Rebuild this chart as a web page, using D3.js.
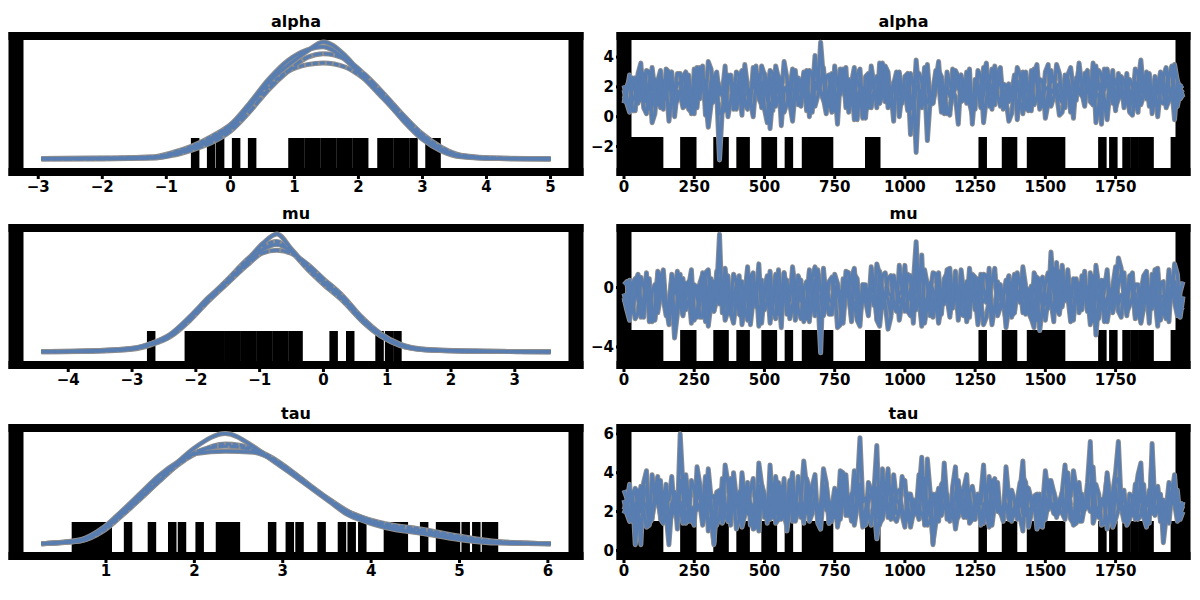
<!DOCTYPE html>
<html>
<head>
<meta charset="utf-8">
<script src="https://cdn.jsdelivr.net/npm/d3@7"></script>
<style>body{margin:0;background:#fff;}</style>
</head>
<body>
<svg id="chart" width="1200" height="600"></svg>
<script>
// ---------------- DATA ----------------
const varNames = ["alpha", "mu", "tau"];

// KDE evaluation grids (value axis) and densities for 4 chains
const alphaGrid = [-2.95,-2.0,-1.2,-0.9,-0.6,-0.3,0.0,0.3,0.6,0.9,1.2,1.45,1.8,2.1,2.4,2.7,3.0,3.3,3.6,4.2,5.0];
const alphaKde = [
  [0.003,0.004,0.006,0.018,0.040,0.070,0.115,0.198,0.290,0.352,0.405,0.440,0.387,0.304,0.229,0.145,0.075,0.031,0.010,0.003,0.002],
  [0.002,0.003,0.008,0.022,0.046,0.080,0.128,0.210,0.300,0.370,0.410,0.422,0.372,0.300,0.225,0.150,0.082,0.035,0.012,0.003,0.002],
  [0.002,0.002,0.005,0.015,0.035,0.062,0.105,0.178,0.262,0.330,0.382,0.396,0.375,0.318,0.245,0.165,0.090,0.040,0.014,0.004,0.002],
  [0.003,0.005,0.010,0.026,0.050,0.085,0.130,0.200,0.275,0.330,0.355,0.361,0.345,0.300,0.238,0.165,0.095,0.045,0.016,0.005,0.003]
];
const muGrid = [-4.42,-3.6,-3.0,-2.7,-2.4,-2.1,-1.8,-1.5,-1.2,-0.95,-0.73,-0.5,-0.25,0.0,0.3,0.6,0.9,1.2,1.6,2.4,3.56];
const muKde = [
  [0.002,0.005,0.014,0.033,0.066,0.132,0.212,0.282,0.362,0.432,0.470,0.409,0.338,0.277,0.212,0.127,0.066,0.028,0.009,0.004,0.002],
  [0.003,0.006,0.016,0.036,0.072,0.140,0.218,0.285,0.352,0.408,0.428,0.400,0.342,0.282,0.216,0.135,0.070,0.031,0.011,0.005,0.002],
  [0.002,0.004,0.012,0.030,0.062,0.125,0.204,0.275,0.345,0.395,0.405,0.392,0.350,0.292,0.225,0.140,0.074,0.033,0.012,0.004,0.002],
  [0.003,0.006,0.015,0.034,0.068,0.136,0.214,0.290,0.368,0.420,0.440,0.398,0.330,0.270,0.205,0.125,0.064,0.027,0.010,0.004,0.002]
];
const tauGrid = [0.27,0.71,0.97,1.18,1.39,1.60,1.81,2.02,2.35,2.67,2.88,3.09,3.30,3.52,3.73,3.95,4.16,4.59,5.01,5.44,6.03];
const tauKde = [
  [0.002,0.013,0.055,0.113,0.176,0.239,0.311,0.370,0.420,0.370,0.319,0.269,0.218,0.164,0.113,0.084,0.063,0.040,0.017,0.004,0.002],
  [0.002,0.017,0.063,0.126,0.193,0.260,0.311,0.344,0.353,0.349,0.323,0.277,0.223,0.168,0.122,0.088,0.067,0.042,0.021,0.006,0.002],
  [0.002,0.015,0.058,0.120,0.185,0.250,0.305,0.350,0.372,0.356,0.322,0.275,0.222,0.170,0.125,0.095,0.074,0.050,0.025,0.008,0.002],
  [0.002,0.012,0.050,0.108,0.172,0.238,0.300,0.345,0.380,0.362,0.328,0.280,0.226,0.172,0.126,0.096,0.078,0.056,0.030,0.010,0.002]
];

// Thinned traces, one value every drawStep draws; "A" = even samples, "B" = odd samples
const drawStep = 10;
const alphaTraceA = [
  [1.2,2.8,0.4,1.9,3.1,0.7,1.5,2.4,-0.3,1.8, 2.9,1.1,0.2,2.2,3.4,1.0,1.7,-2.9,0.9,2.6, 1.4,0.1,2.0,3.3,1.6,0.5,2.7,1.3,-0.6,1.9, 2.5,0.8,3.0,1.2,2.3,5.0,1.1,0.3,2.1,3.2, 1.5,-0.2,1.8,2.7,0.6,1.4,3.6,1.0,2.2,0.0, 1.7,2.9,-2.4,1.3,2.4,0.9,3.1,1.6,0.4,2.0, 2.8,1.2,-0.5,1.9,3.3,0.7,1.5,2.6,1.1,0.2, 2.3,3.0,1.4,0.8,2.5,-0.1,1.8,3.5,1.0,2.1, 0.5,1.6,2.9,1.3,-0.4,2.2,3.2,0.9,1.7,2.4, 0.3,1.5,3.8,1.2,0.6,2.0,2.7,1.1,-0.2,1.9],
  [2.1,0.6,1.7,3.2,1.0,-0.4,2.4,1.3,2.9,0.8, 1.6,3.0,0.3,1.9,2.5,-0.7,1.2,2.0,3.4,1.1, 0.5,2.3,1.5,0.0,2.8,1.8,3.1,0.7,1.4,2.6, -0.3,1.9,2.7,1.0,3.5,1.6,0.2,2.2,1.3,2.9, 0.9,3.3,1.7,-0.1,2.4,1.1,2.0,3.0,0.4,1.5, 2.7,1.2,3.8,0.6,-1.6,1.8,2.3,0.8,1.4,3.1, 1.0,2.5,0.1,1.7,2.9,1.3,3.4,0.7,2.1,1.6, -0.2,2.6,1.1,3.2,0.5,1.9,2.4,1.5,0.3,2.8, 1.8,3.6,0.9,2.2,1.4,-0.5,2.0,3.1,1.2,0.6, 2.5,1.0,3.3,1.7,0.2,2.3,1.5,2.9,0.8,1.8],
  [0.9,2.5,1.4,3.6,0.2,1.8,2.2,0.5,3.0,1.6, 2.3,0.7,1.1,3.3,1.9,0.1,2.6,1.5,0.4,2.8, 1.7,3.1,0.6,2.0,1.2,2.9,-0.8,1.6,2.4,0.9, 3.2,1.3,2.1,0.0,4.1,1.7,2.7,0.8,1.5,2.3, 0.3,2.9,1.9,1.1,3.4,0.6,2.2,1.4,-0.3,2.6, 1.8,0.5,3.0,2.4,1.0,1.6,3.7,0.2,2.1,1.3, 2.7,0.9,1.5,3.1,-0.4,2.3,1.7,2.9,0.6,1.9, 3.3,1.2,0.4,2.6,1.8,3.0,0.7,2.0,1.4,2.5, -0.1,1.6,2.8,1.0,3.4,1.5,0.3,2.2,2.9,1.1, 1.7,3.2,0.8,2.4,1.3,0.0,2.7,1.9,3.5,1.2],
  [1.8,0.3,2.6,1.1,2.0,3.3,0.8,1.6,2.7,0.0, 1.5,2.9,1.2,0.6,2.4,3.7,1.0,0.2,1.9,2.3, 3.0,1.4,0.5,2.1,1.7,2.8,0.9,3.4,1.3,2.0, 0.4,2.6,1.6,3.1,0.7,2.2,1.1,2.9,-0.5,1.8, 2.5,1.0,3.2,0.3,1.9,2.7,1.4,0.6,2.3,3.0, 1.2,-1.2,2.0,1.6,3.5,0.9,2.4,1.3,0.1,2.8, 1.7,3.0,0.4,2.2,1.5,2.6,0.8,3.3,1.9,1.1, 2.4,0.2,1.8,2.9,1.3,0.6,3.1,2.0,1.0,2.5, 1.4,3.4,0.7,2.1,1.6,2.8,-0.2,1.9,2.6,1.2, 0.5,2.3,1.8,3.0,1.1,2.2,0.9,2.7,1.5,2.0]
];
const alphaTraceB = [
  [1.6,0.4,2.5,1.1,3.0,1.8,0.6,2.2,1.4,2.9, 0.8,1.9,3.2,1.2,0.1,2.4,1.7,0.5,2.8,1.3, 2.0,3.5,0.9,1.6,2.3,-0.4,1.1,2.7,1.9,0.7, 3.1,1.4,2.1,0.3,1.8,2.6,1.0,3.4,1.5,0.6, 2.2,1.3,-0.1,2.9,1.7,0.9,2.4,1.2,3.0,1.6, 0.4,2.1,1.5,3.3,0.8,1.9,2.7,0.2,1.4,2.5, 1.1,3.2,1.8,0.6,2.3,1.0,2.8,1.5,-0.3,2.0, 1.7,0.5,3.1,1.3,2.4,0.9,1.6,2.9,1.2,0.3, 2.6,1.4,1.9,3.6,0.7,1.8,2.2,1.0,2.7,1.5, 0.1,2.3,1.6,2.8,1.1,3.0,0.6,1.9,2.4,1.3],
  [1.3,2.6,0.9,1.8,2.4,0.2,3.1,1.5,2.0,1.1, 2.7,0.5,1.9,3.3,1.2,0.8,2.5,1.6,0.0,2.2, 1.4,3.0,1.0,2.3,0.6,1.7,2.9,1.3,3.7,0.9, 1.8,2.4,0.4,1.5,2.8,1.2,2.0,0.7,3.2,1.6, 2.3,-0.2,1.4,2.6,1.9,1.0,3.4,0.8,2.1,1.5, 2.9,0.6,1.7,2.4,1.1,3.1,0.3,2.0,1.6,2.7, 1.2,0.9,2.5,1.8,3.6,0.5,1.4,2.2,1.0,2.8, 1.6,3.0,0.4,2.3,1.3,1.9,2.6,0.1,1.7,3.3, 1.1,2.0,2.7,0.8,1.5,3.2,1.9,0.6,2.4,1.2, 2.1,0.3,1.8,2.9,1.4,2.5,1.0,3.1,0.7,1.6],
  [2.0,1.1,2.9,0.6,1.7,2.5,1.3,3.2,0.9,2.2, 1.5,2.8,0.2,1.9,2.4,1.0,3.0,1.6,2.3,0.5, 2.6,1.2,1.8,3.4,0.8,2.1,1.4,2.7,0.3,1.9, 2.4,0.7,3.1,1.5,2.0,1.1,2.8,0.4,1.6,3.3, 1.2,2.5,1.9,0.6,2.2,3.6,1.0,1.7,2.6,0.9, 2.1,1.4,2.9,0.8,1.5,2.4,1.1,3.0,1.8,-0.5, 2.3,1.6,0.5,2.7,1.2,3.2,1.9,0.7,2.0,1.4, 2.8,0.9,1.7,2.4,1.0,3.5,1.3,2.2,0.6,1.8, 2.5,1.5,3.1,0.8,2.0,1.2,2.7,0.4,1.6,2.3, 1.0,2.9,1.4,0.7,2.1,1.8,3.3,1.1,2.4,1.5],
  [0.9,2.3,1.6,2.9,0.5,1.8,2.5,1.2,3.0,1.7, 0.6,2.2,1.4,2.7,1.0,3.2,1.9,0.3,2.4,1.5, 2.8,0.8,1.7,2.1,3.4,1.1,0.4,2.6,1.8,1.3, 2.3,1.6,0.9,2.9,1.4,3.3,0.7,1.9,2.5,1.2, 1.7,2.8,0.5,1.5,2.2,0.9,3.1,1.3,2.0,1.6, 2.6,0.2,1.8,2.4,1.1,2.9,1.5,0.6,3.2,1.9, 1.3,2.1,1.7,0.8,2.6,1.4,3.0,0.5,2.2,1.6, 1.0,2.7,1.9,3.5,0.7,1.5,2.3,1.2,2.8,0.4, 2.0,1.6,2.5,1.1,3.1,0.9,1.8,2.4,1.3,2.9, 1.7,0.6,2.2,1.4,2.7,1.0,1.9,3.4,0.8,2.1]
];
const muTraceA = [
  [-0.4,-1.9,0.6,-1.2,-0.1,-2.3,0.9,-0.8,-1.6,0.3, -1.1,-0.2,1.2,-1.7,-0.5,-2.6,0.4,3.6,-0.9,-1.4, 0.1,-2.0,-0.6,1.0,-1.3,-0.3,-2.4,0.7,-1.0,-0.7, 1.4,-1.5,-0.1,-2.1,0.5,-4.4,-0.8,-1.8,0.2,-1.2, -0.4,1.1,-2.2,-0.9,0.3,-1.6,-0.2,-2.8,0.8,-1.0, -0.5,0.6,1.9,-1.4,-0.7,-2.0,0.0,-1.1,1.3,-0.3, -1.8,0.4,-0.9,-2.5,0.9,-0.6,-1.3,0.2,-2.2,-0.4, 1.0,-1.7,-0.1,-2.7,0.5,-1.0,0.7,-1.5,-0.2,1.2, -2.0,-0.8,0.3,-1.4,1.5,-0.5,-2.3,0.1,-1.1,-0.6, 0.8,-1.9,-0.3,1.1,-1.2,-2.6,0.4,-0.7,1.6,-1.5],
  [0.2,-1.3,-2.1,0.7,-0.6,-1.8,1.1,-0.2,-2.5,-3.4, 0.5,-1.5,-0.4,-2.0,0.9,-1.1,-1.6,-0.3,1.3,-1.7, -0.8,0.4,-2.2,-1.0,1.6,-0.5,-1.4,0.1,-2.7,-0.2, -1.2,0.8,-0.7,1.2,-1.9,-0.1,-0.4,-1.3,0.3,-2.4, -0.6,0.9,-1.6,-0.3,1.4,-2.2,-0.8,0.6,-1.1,-0.4, 1.5,-1.9,3.1,-2.6,0.2,-1.0,1.0,-0.7,-1.8,0.4, -0.3,-2.3,0.7,-1.2,-0.1,1.3,-1.6,-0.8,0.5,-2.0, -0.6,1.1,-1.4,-0.2,-2.9,0.3,-0.9,1.7,-1.3,-0.5, 0.6,-1.7,-0.4,1.0,-2.1,-0.8,0.4,-1.5,2.0,-0.7, -1.2,0.2,-2.4,-0.1,0.9,-1.6,-0.6,1.2,-1.0,-0.3],
  [-1.0,0.5,-0.3,-2.0,0.8,-1.4,-0.6,1.2,-1.9,-0.2, -1.2,0.3,-2.4,-0.7,1.0,-0.1,-1.6,0.6,-2.2,-0.9, 0.4,-1.3,1.4,-0.5,-2.6,0.0,-1.1,0.9,-0.4,-1.8, 0.7,-0.8,-2.3,1.1,-1.5,-0.2,0.3,-1.0,-2.7,0.6, -0.5,1.3,-1.7,-0.9,0.2,-2.1,0.8,-0.4,-1.3,1.5, -1.6,-0.1,0.5,-2.4,-0.7,1.0,-1.2,0.3,-2.0,-0.6, 1.2,-1.1,-0.3,0.6,-2.5,-0.8,0.9,-1.4,0.1,-1.9, -0.2,1.4,-1.0,-2.1,0.4,-0.6,2.4,-1.5,-0.3,0.8, -2.2,-0.5,1.1,-1.3,-3.2,0.5,-0.8,-1.7,0.2,1.0, -1.1,-0.4,-2.3,0.7,-0.9,1.3,-1.6,-0.2,0.4,-2.0],
  [-0.7,-2.2,0.4,-1.0,1.0,-0.3,-1.7,0.2,-0.9,-2.4, 0.9,-0.6,-1.3,0.1,-2.0,1.2,-0.5,-1.1,0.6,-1.8, -0.2,-2.5,0.8,-0.8,0.3,-1.5,1.1,-2.1,-0.4,0.5, -1.4,0.0,-0.9,-2.3,1.4,-0.6,-1.2,0.7,-0.1,-1.9, 1.0,-1.0,-2.6,0.2,-0.5,1.6,-1.4,-0.8,0.5,-2.2, -0.4,0.8,-1.5,2.2,-1.1,-0.2,-2.4,0.6,-0.7,1.1, -1.6,-0.3,0.9,-2.0,-0.9,0.4,1.3,-1.3,-2.7,0.1, -0.8,0.6,-1.7,1.0,-0.4,-2.2,0.2,-1.0,1.5,-0.6, -1.9,0.3,-0.5,-2.5,0.8,-1.2,1.2,-0.3,-1.6,-0.1, 0.7,-2.1,-0.7,0.4,-1.4,1.0,-0.9,-2.3,0.3,-1.1]
];
const muTraceB = [
  [-1.2,0.3,-0.8,-2.0,0.6,-1.5,-0.3,-1.9,0.9,-0.6, -1.4,0.1,-2.2,-0.9,0.5,-1.1,-0.2,-1.7,0.8,-0.5, -1.8,-0.4,0.7,-1.3,-2.4,0.2,-0.7,-1.6,1.0,-0.9, -0.1,-2.1,0.4,-1.2,-0.6,1.3,-1.8,-0.3,-1.0,0.6, -2.3,-0.8,0.2,-1.5,-0.4,1.1,-1.1,-2.0,0.0,-0.7, 0.9,-1.6,-0.5,-2.2,0.3,-1.0,-0.2,1.2,-1.4,-0.8, -1.9,0.5,-0.6,-1.2,0.8,-2.5,-0.3,-1.1,0.4,-1.7, 0.1,-0.9,-2.1,0.7,-1.3,-0.4,1.0,-1.8,-0.6,-1.0, 0.6,-1.5,-0.1,-2.3,0.2,-0.8,-1.2,1.4,-0.5,-1.9, -0.3,-1.1,0.8,-1.6,-0.7,0.3,-2.0,-0.4,0.9,-1.3],
  [0.4,-1.0,-1.7,0.1,-0.5,-2.2,0.8,-1.3,-0.2,-1.8, 0.6,-0.9,-1.5,0.3,-2.0,-0.4,1.1,-1.1,-0.6,-2.4, 0.0,-1.4,0.7,-0.8,-1.9,0.4,-1.2,-0.3,1.0,-1.6, -0.7,0.2,-2.1,-1.0,0.5,-0.4,-1.7,0.9,-1.3,-0.1, -2.0,0.6,-0.9,-1.5,0.1,-2.6,-0.5,0.8,-1.1,-0.2, -1.6,0.3,-0.7,1.2,-1.9,-0.4,-1.2,0.5,-0.8,-2.2, 0.2,-1.4,-0.3,0.9,-1.0,-2.0,0.4,-0.6,-1.5,0.7, -0.9,-1.8,0.1,-0.4,-1.3,1.0,-2.3,-0.7,0.3,-1.1, -0.2,0.8,-1.6,-0.5,-2.1,0.5,-1.0,-0.3,1.3,-1.7, -0.8,0.2,-1.4,-2.4,0.6,-0.6,-1.1,0.0,-1.9,0.4],
  [-0.6,-1.7,0.7,-1.0,-0.2,-2.1,0.4,-1.4,-0.7,1.1, -1.9,-0.4,0.2,-1.2,-2.3,0.6,-0.9,-0.1,-1.6,0.9, -1.1,-0.5,-2.0,0.3,-1.3,0.8,-0.7,-1.8,0.1,-0.3, -2.2,0.5,-1.0,-0.4,1.2,-1.5,-0.8,0.0,-2.5,-0.6, 0.7,-1.2,-0.2,-1.9,0.4,-1.0,1.0,-0.5,-1.6,-0.1, -0.9,-2.4,0.6,-1.3,-0.3,0.9,-1.8,-0.7,0.2,-1.1, -0.4,1.3,-1.5,-0.8,-2.0,0.5,-1.2,-0.2,0.8,-1.7, -1.0,0.1,-0.6,-2.2,0.7,-1.4,-0.3,1.1,-0.9,-1.9, 0.3,-0.5,-1.6,0.6,-1.1,-2.3,-0.1,-0.8,0.9,-1.3, -0.7,-1.8,0.4,-0.4,1.2,-1.5,-2.1,0.1,-1.0,-0.6],
  [-1.5,-0.1,0.9,-1.1,-2.3,0.2,-0.6,-1.4,0.6,-0.9, -1.8,0.4,-0.3,-2.0,1.0,-1.2,-0.5,0.3,-1.7,-0.8, 0.8,-1.3,-2.5,-0.2,0.5,-1.0,-1.6,1.2,-0.4,-2.1, 0.1,-0.9,-1.4,0.7,-0.6,-1.9,0.4,-1.1,-0.3,1.1, -1.6,-2.2,0.2,-0.7,-1.2,0.9,-0.4,-1.8,0.0,-1.0, 0.6,-1.5,-0.2,-2.4,0.3,-0.8,-1.3,1.0,-0.5,-1.7, -0.1,-2.0,0.7,-1.1,-0.6,0.4,-1.9,-0.3,-1.4,0.9, -0.9,-0.2,-2.1,0.5,-1.2,-0.7,1.3,-1.6,-0.4,-2.3, 0.2,-1.0,-0.5,0.8,-1.8,-0.1,-1.3,0.6,-2.0,-0.7, 1.0,-1.4,-0.3,-1.1,0.4,-2.2,-0.6,0.7,-1.5,-0.8]
];
const tauTraceA = [
  [2.1,3.4,1.5,2.8,1.2,3.9,2.4,1.8,0.3,2.9, 3.6,1.4,2.2,4.3,1.7,2.6,0.4,3.1,2.0,1.3, 2.7,4.0,1.9,1.1,3.3,2.5,1.6,3.8,2.3,1.0, 3.0,2.1,4.6,1.5,2.8,1.9,3.5,2.2,1.2,2.6, 1.8,3.7,2.4,1.4,3.1,0.6,2.7,4.2,1.7,2.0, 3.3,1.2,2.5,4.8,1.9,2.9,1.5,3.6,2.2,1.1, 2.6,3.9,1.6,2.3,4.4,1.3,2.8,2.0,3.4,1.7, 2.2,1.0,3.2,2.7,1.5,4.1,2.4,1.8,3.0,2.5, 1.4,3.5,2.1,5.6,1.9,2.6,3.8,1.3,2.3,3.1, 1.6,2.9,4.5,1.2,2.4,3.3,1.8,2.7,3.9,2.0],
  [2.6,1.5,3.2,2.0,4.1,1.7,2.5,3.0,1.3,2.2, 6.0,2.8,1.6,3.5,2.3,1.0,0.3,2.9,1.8,3.7, 2.4,1.2,3.1,2.0,4.5,1.7,2.6,1.4,3.3,2.1, 1.5,3.8,2.2,1.8,2.9,1.1,3.4,2.5,1.9,4.0, 2.3,1.6,5.8,2.7,1.3,3.2,2.0,1.7,3.9,2.4, 1.2,2.9,2.1,3.6,1.8,0.4,2.6,3.0,1.5,4.3, 2.5,1.7,3.3,2.2,1.4,3.8,2.7,1.9,2.4,3.1, 1.6,4.6,2.0,2.8,1.3,3.5,2.2,1.8,3.0,2.5, 3.7,1.5,2.3,3.2,1.9,2.6,4.0,1.2,2.1,2.9, 1.8,3.4,2.5,1.4,5.5,2.2,0.4,3.1,2.7,1.6],
  [1.9,2.7,0.3,3.3,2.2,1.6,3.8,2.4,1.4,3.0, 2.5,1.8,3.6,2.1,1.3,4.2,2.8,1.7,2.3,3.4, 1.1,2.9,2.0,3.7,1.5,2.6,4.4,1.9,2.4,1.2, 3.2,2.3,1.7,2.8,3.9,2.5,2.1,1.5,3.1,2.6, 1.8,4.1,2.4,1.3,3.0,5.4,1.6,3.5,2.7,2.0, 3.6,1.4,2.5,1.9,4.7,0.3,3.2,2.3,1.7,2.9, 2.1,3.4,1.6,2.8,2.4,1.2,3.7,2.0,4.3,1.5, 2.6,1.9,3.1,2.3,1.4,2.8,3.6,1.7,2.5,4.0, 1.3,2.7,2.2,3.3,1.8,2.4,1.1,3.0,5.6,2.1, 2.9,1.6,3.8,2.3,1.9,3.2,2.6,1.4,2.8,2.2],
  [3.1,1.7,2.4,0.3,2.9,2.0,3.6,1.4,2.6,1.9, 2.2,3.9,1.5,2.7,2.0,3.3,1.2,2.5,4.4,1.8, 2.8,1.6,3.5,2.3,1.0,2.9,2.1,3.7,1.6,2.4, 4.0,2.0,1.4,3.2,2.6,1.8,3.0,2.2,1.5,3.8, 2.5,1.3,3.4,2.1,2.8,1.7,4.2,2.4,1.9,3.1, 1.6,2.7,2.0,3.5,1.3,2.6,1.9,4.5,2.3,1.4, 3.0,2.2,1.7,2.9,3.6,1.5,2.4,2.0,3.3,1.8, 2.6,3.8,1.2,2.3,2.9,1.6,3.1,2.5,1.9,2.7, 4.1,1.7,2.5,2.0,3.4,1.3,2.8,2.2,3.7,1.5, 2.3,3.0,1.8,2.6,4.8,2.1,1.6,3.5,2.4,1.9]
];
const tauTraceB = [
  [2.5,1.6,3.1,2.0,1.3,2.8,3.6,1.8,2.3,1.1, 2.9,2.2,1.5,3.4,2.6,1.9,3.0,1.4,2.4,4.0, 1.7,2.7,2.1,1.2,3.2,2.0,2.9,1.6,3.7,2.3, 1.5,2.6,3.3,1.9,2.2,4.2,1.4,2.8,2.0,3.1, 1.8,2.5,1.2,3.5,2.3,1.7,2.9,2.1,1.5,3.8, 2.4,1.9,3.0,1.3,2.7,2.2,3.4,1.6,2.5,2.0, 3.2,1.4,2.1,2.8,1.8,3.6,2.4,1.5,2.9,2.2, 1.7,3.3,2.6,1.1,2.3,3.0,1.9,2.5,4.4,1.6, 2.8,2.0,3.5,1.4,2.2,2.7,1.8,3.2,2.4,1.3, 2.6,3.9,1.7,2.1,3.0,1.5,2.4,2.9,1.9,2.3],
  [1.9,2.8,2.2,3.5,1.4,2.6,1.8,3.1,2.4,1.6, 3.3,2.0,1.3,2.7,3.8,1.7,2.3,2.9,1.5,2.5, 3.0,1.8,2.4,1.2,3.4,2.1,2.8,1.6,2.3,3.6, 1.9,2.6,2.0,3.2,1.4,2.9,2.3,1.7,4.1,2.2, 1.5,3.1,2.5,1.9,2.8,1.3,3.4,2.0,2.6,1.8, 2.9,2.2,1.6,3.7,2.4,1.4,2.7,2.1,3.3,1.7, 2.0,3.0,2.5,1.5,2.8,1.9,3.5,2.3,1.6,2.6, 3.1,1.8,2.2,2.9,1.2,3.6,2.4,2.0,1.7,3.2, 2.5,1.5,2.8,4.3,1.9,2.3,2.7,1.6,3.0,2.1, 1.8,2.6,3.4,1.4,2.2,2.9,1.7,2.4,3.1,2.0],
  [2.3,3.0,1.7,2.5,1.4,2.9,2.1,3.4,1.8,2.6, 2.0,1.5,3.2,2.4,1.9,2.7,1.3,3.7,2.2,2.8, 1.6,2.4,3.1,1.9,2.6,1.4,2.2,3.5,1.8,2.9, 2.5,1.7,2.1,3.3,1.5,2.8,2.0,2.4,1.6,3.9, 2.2,2.9,1.8,2.5,3.1,1.4,2.3,2.7,1.9,3.4, 1.6,2.6,2.1,1.5,3.0,2.4,1.8,2.9,2.2,3.6, 1.7,2.3,2.8,1.3,2.5,3.2,2.0,1.6,2.7,2.2, 3.5,1.9,2.4,2.8,1.5,2.1,3.0,2.6,1.8,2.3, 1.4,2.9,2.2,3.3,1.7,2.5,2.0,4.0,2.4,1.6, 2.8,2.1,1.9,3.1,2.6,1.5,2.3,2.9,1.8,2.5],
  [2.7,1.5,2.2,3.3,1.9,2.5,1.6,2.9,3.8,2.1, 1.4,2.6,2.0,3.1,1.8,2.4,2.9,1.5,3.5,2.2, 1.9,2.8,1.3,2.5,3.4,2.0,1.7,2.6,2.3,3.0, 1.6,2.4,3.7,1.9,2.1,2.8,1.4,3.2,2.5,1.8, 2.9,2.2,1.5,2.7,3.3,1.9,2.4,1.6,3.0,2.1, 2.6,1.8,3.9,2.3,1.5,2.9,2.0,2.5,1.7,3.4, 2.2,2.8,1.6,2.4,3.1,1.3,2.6,2.0,2.9,1.8, 2.3,3.5,1.9,2.7,1.5,2.4,3.0,2.1,1.6,2.8, 3.2,1.7,2.5,2.0,2.9,1.4,2.6,3.6,2.2,1.9, 2.4,1.6,3.0,2.3,1.8,2.7,2.1,3.3,1.5,2.5]
];

// Divergent draws (draw index) and the values of each variable there
const divergentDraws = [14,43,72,100,125,215,243,333,358,415,433,504,530,587,648,676,705,730,873,898,1277,1360,1385,1449,1478,1503,1531,1556,1703,1742,1789,1818,1846,1871,1961,1986];
const alphaDivValues = [-0.55,-0.30,-0.16,0.09,0.34,0.97,1.09,1.22,1.34,1.47,1.59,1.72,1.84,1.97,2.09,2.36,2.48,2.61,2.73,2.86,3.11,3.22];
const muDivValues = [-2.70,-2.11,-1.98,-1.86,-1.73,-1.61,-1.48,-1.36,-1.23,-1.11,-0.98,-0.86,-0.73,-0.61,-0.48,-0.39,0.16,0.42,0.88,1.03,1.16];
const tauDivValues = [0.66,0.75,0.84,0.93,1.02,1.25,1.52,1.75,1.86,2.06,2.29,2.38,2.47,2.88,3.08,3.19,3.44,3.67,3.78,3.90,4.19,4.28,4.37,4.60,4.78,4.87,4.96,5.07,5.19,5.30,5.39];

// Tick values
const alphaKdeTicks = [-3,-2,-1,0,1,2,3,4,5];
const muKdeTicks = [-4,-3,-2,-1,0,1,2,3];
const tauKdeTicks = [1,2,3,4,5,6];
const alphaTraceTicks = [-2,0,2,4];
const muTraceTicks = [-4,0];
const tauTraceTicks = [0,2,4,6];
const drawTicks = [0,250,500,750,1000,1250,1500,1750];

// ---------------- LAYOUT / STYLE ----------------
const LEFT = [16, 576], RIGHT = [624, 1183];
const ROWS = [[36, 172], [228, 365], [428, 556]];
const BLUE = "#587db1", HALO = "#8e8e8e", INK = "#000";
const FONT = "'DejaVu Sans', Verdana, sans-serif";
const DASHES = [null, null, "9,2", "5,2"];

// interleave even/odd samples of each chain
const weave = (A, B) => A.map((a, k) => d3.merge(a.map((v, i) => i < B[k].length ? [v, B[k][i]] : [v])));

const panels = [
  {name: varNames[0], grid: alphaGrid, kde: alphaKde, trace: weave(alphaTraceA, alphaTraceB), div: alphaDivValues, kt: alphaKdeTicks, tt: alphaTraceTicks},
  {name: varNames[1], grid: muGrid, kde: muKde, trace: weave(muTraceA, muTraceB), div: muDivValues, kt: muKdeTicks, tt: muTraceTicks},
  {name: varNames[2], grid: tauGrid, kde: tauKde, trace: weave(tauTraceA, tauTraceB), div: tauDivValues, kt: tauKdeTicks, tt: tauTraceTicks}
];

const svg = d3.select("#chart");
svg.append("rect").attr("width", 1200).attr("height", 600).attr("fill", "#fff");
const fmt = d3.format("d");

function frame(g, xr, top, bot) {
  const hv = 7.5, hh = 4;
  g.append("rect").attr("x", xr[0]-hv).attr("y", top-hh).attr("width", xr[1]-xr[0]+2*hv).attr("height", 2*hh).attr("fill", INK);
  g.append("rect").attr("x", xr[0]-hv).attr("y", bot-hh).attr("width", xr[1]-xr[0]+2*hv).attr("height", 2*hh).attr("fill", INK);
  g.append("rect").attr("x", xr[0]-hv).attr("y", top-hh).attr("width", 2*hv).attr("height", bot-top+2*hh).attr("fill", INK);
  g.append("rect").attr("x", xr[1]-hv).attr("y", top-hh).attr("width", 2*hv).attr("height", bot-top+2*hh).attr("fill", INK);
}

function title(g, xr, top, text) {
  g.append("text").attr("x", (xr[0]+xr[1])/2).attr("y", top-9)
    .attr("text-anchor", "middle").attr("font-family", FONT).attr("font-weight", "bold")
    .attr("font-size", 16).attr("fill", INK).text(text);
}

function xTicks(g, scale, ticks, bot) {
  ticks.forEach(t => {
    g.append("line").attr("x1", scale(t)).attr("x2", scale(t)).attr("y1", bot).attr("y2", bot+7)
      .attr("stroke", INK).attr("stroke-width", 3);
    g.append("text").attr("x", scale(t)).attr("y", bot+20).attr("text-anchor", "middle")
      .attr("font-family", FONT).attr("font-weight", "bold").attr("font-size", 15).attr("fill", INK)
      .text(fmt(t));
  });
}

panels.forEach((p, r) => {
  const [top, bot] = ROWS[r];

  // ---------- KDE panel ----------
  const gk = svg.append("g");
  const gmin = d3.min(p.grid), gmax = d3.max(p.grid), gr = gmax - gmin;
  const x = d3.scaleLinear().domain([gmin - 0.05*gr, gmax + 0.05*gr]).range(LEFT);
  const dmax = d3.max(p.kde.flat());
  const y = d3.scaleLinear().domain([-0.107*dmax, 1.05*dmax]).range([bot, top]);
  frame(gk, LEFT, top, bot);
  title(gk, LEFT, top, p.name);
  xTicks(gk, x, p.kt, bot);
  gk.selectAll("line.dv").data(p.div).join("line").attr("class", "dv")
    .attr("x1", d => x(d)).attr("x2", d => x(d)).attr("y1", bot-4).attr("y2", bot-34)
    .attr("stroke", INK).attr("stroke-width", 8.5);
  const kline = d3.line().x((d, i) => x(p.grid[i])).y(d => y(d)).curve(d3.curveMonotoneX);
  p.kde.forEach(c => gk.append("path").attr("d", kline(c)).attr("fill", "none")
    .attr("stroke", HALO).attr("stroke-width", 5).attr("stroke-linejoin", "round"));
  p.kde.forEach((c, k) => gk.append("path").attr("d", kline(c)).attr("fill", "none")
    .attr("stroke", BLUE).attr("stroke-width", 3).attr("stroke-dasharray", DASHES[k]));

  // ---------- Trace panel ----------
  const gt = svg.append("g");
  const n = p.trace[0].length;
  const xt = d3.scaleLinear().domain([0, (n-1)*drawStep]).range(RIGHT);
  const all = p.trace.flat();
  const m = d3.min(all), M = d3.max(all), R = M - m;
  const yt = d3.scaleLinear().domain([m - 0.1025*R, M + 0.0525*R]).range([bot, top]);
  frame(gt, RIGHT, top, bot);
  title(gt, RIGHT, top, p.name);
  xTicks(gt, xt, drawTicks, bot);
  p.tt.forEach(t => {
    gt.append("line").attr("x1", RIGHT[0]-8).attr("x2", RIGHT[0]).attr("y1", yt(t)).attr("y2", yt(t))
      .attr("stroke", INK).attr("stroke-width", 3);
    gt.append("text").attr("x", RIGHT[0]-10).attr("y", yt(t)).attr("dy", "0.36em")
      .attr("text-anchor", "end").attr("font-family", FONT).attr("font-weight", "bold")
      .attr("font-size", 15).attr("fill", INK).text(fmt(t));
  });
  gt.selectAll("line.dv").data(divergentDraws).join("line").attr("class", "dv")
    .attr("x1", d => xt(d)).attr("x2", d => xt(d)).attr("y1", bot-4).attr("y2", bot-35)
    .attr("stroke", INK).attr("stroke-width", 8.5);
  const tline = d3.line().x((d, i) => xt(i*drawStep)).y(d => yt(d));
  p.trace.forEach(c => gt.append("path").attr("d", tline(c)).attr("fill", "none")
    .attr("stroke", HALO).attr("stroke-width", 5).attr("stroke-linejoin", "round"));
  p.trace.forEach(c => gt.append("path").attr("d", tline(c)).attr("fill", "none")
    .attr("stroke", BLUE).attr("stroke-width", 3.2).attr("stroke-linejoin", "round"));
});
</script>
</body>
</html>
